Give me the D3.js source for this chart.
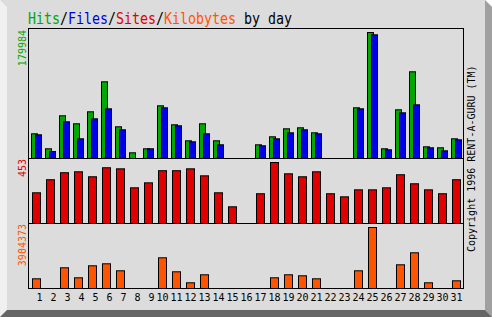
<!DOCTYPE html>
<html>
<head>
<meta charset="utf-8">
<script src="https://cdn.jsdelivr.net/npm/d3@7"></script>
<style>
  body { margin: 0; background: #fff; }
  svg { display: block; }
  text { font-family: "DejaVu Sans Mono", monospace; }
</style>
</head>
<body>
<svg id="chart" width="492" height="317"></svg>
<script>
// daily values
var days  = d3.range(1, 32);
var hits  = [35280, 13860, 61000, 49570, 66700, 109560, 45280, 8140, 13860, 75280,
             48140, 25280, 49570, 25280, 0, 0, 19570, 31000, 42420, 43850,
             36710, 0, 0, 72420, 179984, 13860, 69560, 123840, 16710, 15280, 28140];
var files = [33850, 10000, 52420, 28140, 56710, 70990, 41000, 0, 13860, 72420,
             46710, 23850, 35280, 19570, 0, 0, 18140, 28140, 36710, 41000,
             35280, 0, 0, 70990, 176700, 12430, 65280, 76700, 15280, 11000, 26710];
var sites = [228, 325, 377, 384, 347, 414, 406, 265, 302, 392,
             392, 406, 354, 228, 124, 0, 221, 453, 369, 347,
             384, 221, 198, 250, 250, 265, 362, 295, 250, 221, 325];
var kbytes = [621000, 0, 1325000, 685000, 1453000, 1581000, 1133000, 0, 0, 1965000,
              1069000, 365000, 877000, 0, 0, 0, 0, 685000, 877000, 813000,
              621000, 0, 0, 1133000, 3904373, 0, 1517000, 2285000, 365000, 0, 493000];
var maxHits = 179984, maxSites = 453, maxKb = 3904373;

var green = "#00a800", blue = "#0000e6", red = "#e00000", orange = "#ff5500";

var svg = d3.select("#chart");

// frame / bevel
svg.append("rect").attr("x", 0).attr("y", 0).attr("width", 492).attr("height", 317).attr("fill", "#dcdcdc");
svg.append("polygon").attr("points", "0,0 7,7 7,310 0,317").attr("fill", "#f0f0f0");
svg.append("polygon").attr("points", "485,0 492,0 492,7").attr("fill", "#ffffff");
svg.append("polygon").attr("points", "485,0 492,7 492,317 485,310").attr("fill", "#a0a0a0");
svg.append("polygon").attr("points", "0,317 7,310 485,310 492,317").attr("fill", "#666666");

// scales
var x = d3.scaleLinear().domain([1, 32]).range([28, 462]);
var yHits = d3.scaleLinear().domain([0, maxHits]).range([158.5, 32.5]);
var ySites = d3.scaleLinear().domain([0, maxSites]).range([223.5, 162.5]);
var yKb = d3.scaleLinear().domain([0, maxKb]).range([288.5, 227.5]);

function bars(vals, y, off, w, col) {
  svg.append("g").selectAll("rect")
    .data(days.filter(function(d) { return vals[d - 1] > 0; }))
    .enter().append("rect")
    .attr("x", function(d) { return x(d) + off; })
    .attr("y", function(d) { return y(vals[d - 1]); })
    .attr("width", w)
    .attr("height", function(d) { return y(0) - y(vals[d - 1]); })
    .attr("fill", col)
    .attr("stroke", "#000")
    .attr("stroke-width", 1);
}

bars(hits, yHits, 3.5, 6, green);
bars(files, yHits, 7.5, 6, blue);
bars(sites, ySites, 4.5, 8, red);
bars(kbytes, yKb, 4.5, 8, orange);

// box and panel separators
var frame = svg.append("g").attr("stroke", "#000").attr("fill", "none");
frame.append("rect").attr("x", 28.5).attr("y", 28.5).attr("width", 435).attr("height", 260);
[158.5, 223.5].forEach(function(yy) {
  frame.append("line").attr("x1", 28).attr("x2", 464).attr("y1", yy).attr("y2", yy);
});

// day labels
svg.append("g").selectAll("text")
  .data(days).enter().append("text")
  .attr("x", function(d) { return x(d) + 14.5; })
  .attr("y", 301)
  .attr("text-anchor", "end")
  .attr("font-size", "10px")
  .attr("fill", "#000")
  .text(function(d) { return d; });

// max labels, rotated
[[maxHits, green, 30], [maxSites, red, 159], [maxKb, orange, 224]].forEach(function(m) {
  svg.append("text")
    .attr("transform", "translate(25.5," + m[2] + ") rotate(-90)")
    .attr("text-anchor", "end")
    .attr("font-size", "10px")
    .attr("fill", m[1])
    .text(m[0]);
});

svg.append("text")
  .attr("transform", "translate(474.5,252) rotate(-90)")
  .attr("font-size", "10px")
  .attr("fill", "#000")
  .text("Copyright 1996 RENT-A-GURU (TM)");

// title, one text with coloured pieces
var parts = [["Hits", green], ["/", "#000"], ["Files", blue], ["/", "#000"],
             ["Sites", red], ["/", "#000"], ["Kilobytes", orange], ["\u00a0by\u00a0day", "#000"]];
var title = svg.append("text")
  .attr("x", 28)
  .attr("y", 24)
  .attr("font-size", "16px")
  .attr("textLength", 33 * 8)
  .attr("lengthAdjust", "spacingAndGlyphs");
parts.forEach(function(p) {
  title.append("tspan").attr("fill", p[1]).text(p[0]);
});
</script>
</body>
</html>
